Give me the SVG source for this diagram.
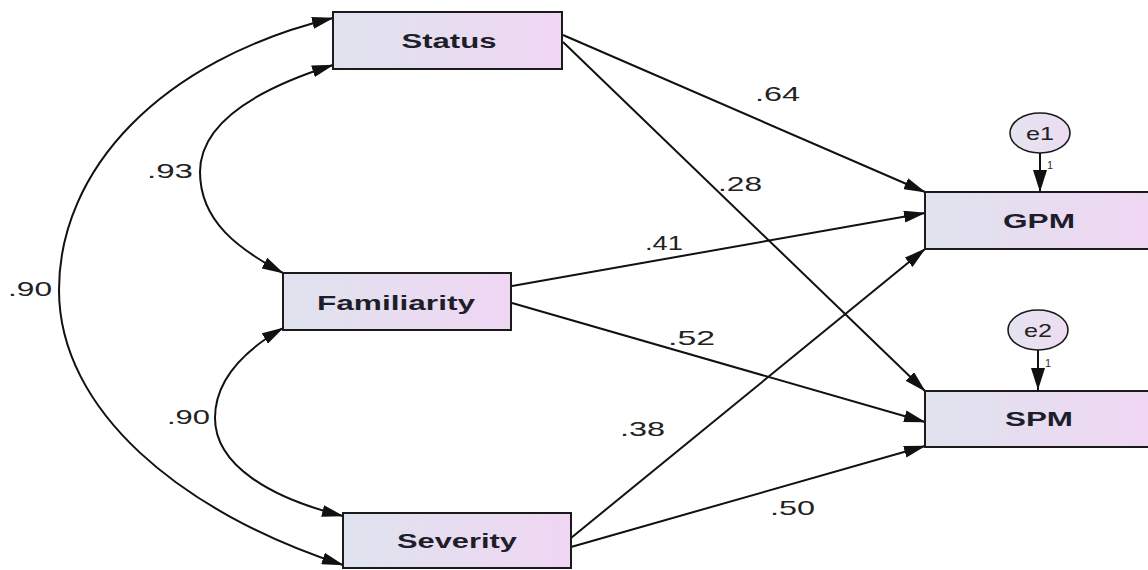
<svg xmlns="http://www.w3.org/2000/svg" width="1148" height="570" viewBox="0 0 1148 570">
<style>
.box{stroke:#1a1a1a;stroke-width:2;fill:url(#g)}
.el{stroke:#1a1a1a;stroke-width:1.6;fill:url(#g2)}
.lbl{font-family:"Liberation Sans",Arial,sans-serif;font-weight:bold;font-size:20px;fill:#1e1e2a;text-anchor:middle}
.num{font-family:"Liberation Sans",Arial,sans-serif;font-size:21px;fill:#222}
.e{font-family:"Liberation Sans",Arial,sans-serif;font-size:19px;fill:#222;text-anchor:middle}
.one{font-family:"Liberation Sans",Arial,sans-serif;font-size:11px;fill:#333}
.c{fill:none;stroke:#111;stroke-width:2}
</style>
<defs>
<linearGradient id="g" x1="0" y1="0" x2="1" y2="0">
<stop offset="0" stop-color="#dfe3ee"/>
<stop offset="1" stop-color="#f0d6f3"/>
</linearGradient>
<linearGradient id="g2" x1="0" y1="0" x2="1" y2="0">
<stop offset="0" stop-color="#e4e4f0"/>
<stop offset="1" stop-color="#eedcf2"/>
</linearGradient>
<marker id="ah" markerUnits="userSpaceOnUse" markerWidth="22" markerHeight="12" refX="21" refY="6" orient="auto-start-reverse">
<path d="M0,0 L22,6 L0,12 z" fill="#111"/>
</marker>
<marker id="ah2" markerUnits="userSpaceOnUse" markerWidth="22" markerHeight="14" refX="22" refY="7" orient="auto">
<path d="M0,0 L22,7 L0,14 z" fill="#111"/>
</marker>
</defs>
<rect width="1148" height="570" fill="#fff"/>
<g id="connectors">
<path class="c" d="M333,18 C160,60 59,170 59,290 C59,410 180,512 343,565" marker-start="url(#ah)" marker-end="url(#ah)"/>
<path class="c" d="M333,65 C260,88 200,122 200,172 C200,222 240,250 283,273" marker-start="url(#ah)" marker-end="url(#ah)"/>
<path class="c" d="M283,328 C245,350 215,380 215,418 C215,465 270,498 343,516" marker-start="url(#ah)" marker-end="url(#ah)"/>
<line class="c" x1="563" y1="35" x2="925" y2="192" marker-end="url(#ah)"/>
<line class="c" x1="563" y1="42" x2="925" y2="391" marker-end="url(#ah)"/>
<line class="c" x1="512" y1="286" x2="925" y2="213" marker-end="url(#ah)"/>
<line class="c" x1="512" y1="303" x2="925" y2="422" marker-end="url(#ah)"/>
<line class="c" x1="571" y1="538" x2="925" y2="249" marker-end="url(#ah)"/>
<line class="c" x1="571" y1="547" x2="925" y2="446" marker-end="url(#ah)"/>
<line class="c" x1="1040" y1="152" x2="1040" y2="192" marker-end="url(#ah2)"/>
<line class="c" x1="1038" y1="350" x2="1038" y2="390" marker-end="url(#ah2)"/>
<text class="num" x="8" y="296" textLength="44" lengthAdjust="spacingAndGlyphs">.90</text>
<text class="num" x="147" y="178" textLength="46" lengthAdjust="spacingAndGlyphs">.93</text>
<text class="num" x="167" y="424" textLength="43" lengthAdjust="spacingAndGlyphs">.90</text>
<text class="num" x="755" y="101" textLength="45" lengthAdjust="spacingAndGlyphs">.64</text>
<text class="num" x="718" y="191" textLength="44" lengthAdjust="spacingAndGlyphs">.28</text>
<text class="num" x="645" y="250" textLength="38" lengthAdjust="spacingAndGlyphs">.41</text>
<text class="num" x="668" y="345" textLength="47" lengthAdjust="spacingAndGlyphs">.52</text>
<text class="num" x="620" y="436" textLength="45" lengthAdjust="spacingAndGlyphs">.38</text>
<text class="num" x="770" y="515" textLength="45" lengthAdjust="spacingAndGlyphs">.50</text>
<text class="one" x="1047" y="169">1</text>
<text class="one" x="1045" y="367">1</text>
</g>
<g id="status"><rect class="box" x="333" y="12" width="229" height="57"/><text class="lbl" x="449" y="48" textLength="95" lengthAdjust="spacingAndGlyphs">Status</text></g>
<g id="familiarity"><rect class="box" x="283" y="273" width="228" height="57"/><text class="lbl" x="396" y="310" textLength="158" lengthAdjust="spacingAndGlyphs">Familiarity</text></g>
<g id="severity"><rect class="box" x="343" y="513" width="228" height="55"/><text class="lbl" x="457" y="548" textLength="120" lengthAdjust="spacingAndGlyphs">Severity</text></g>
<g id="gpm"><rect class="box" x="925" y="192" width="228" height="57"/><text class="lbl" x="1039" y="228" textLength="72" lengthAdjust="spacingAndGlyphs">GPM</text></g>
<g id="spm"><rect class="box" x="925" y="391" width="228" height="56"/><text class="lbl" x="1039" y="426" textLength="68" lengthAdjust="spacingAndGlyphs">SPM</text></g>
<g id="e1"><ellipse class="el" cx="1040" cy="133" rx="30" ry="20"/><text class="e" x="1040" y="140" textLength="28" lengthAdjust="spacingAndGlyphs">e1</text></g>
<g id="e2"><ellipse class="el" cx="1038" cy="330" rx="30" ry="20"/><text class="e" x="1038" y="337" textLength="28" lengthAdjust="spacingAndGlyphs">e2</text></g>
</svg>
